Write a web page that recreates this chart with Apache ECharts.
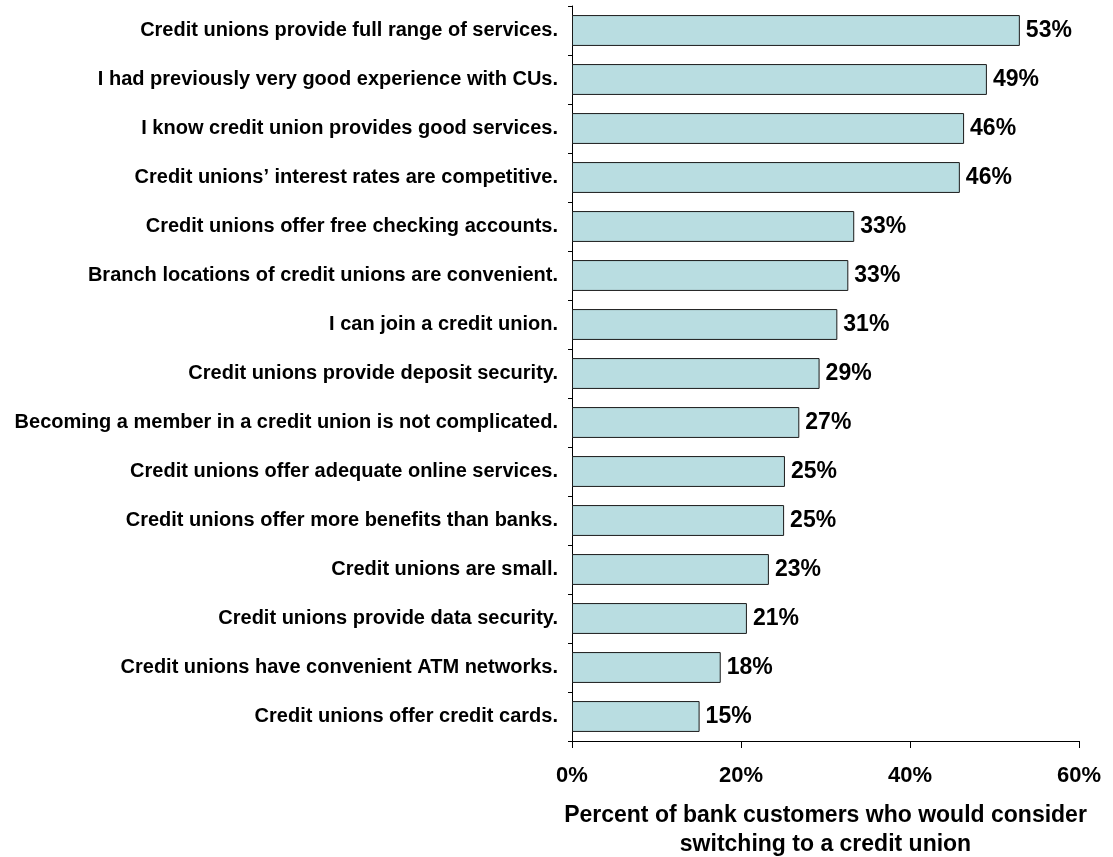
<!DOCTYPE html>
<html>
<head>
<meta charset="utf-8">
<script src="https://cdn.jsdelivr.net/npm/echarts@6/dist/echarts.min.js"></script>
<style>
  html, body { margin: 0; padding: 0; background: #ffffff; }
  #chart { width: 1113px; height: 857px; }
</style>
</head>
<body>
<div id="chart"></div>
<script>
// Reasons bank customers would consider switching to a credit union (top to bottom)
const reasons = [
  "Credit unions provide full range of services.",
  "I had previously very good experience with CUs.",
  "I know credit union provides good services.",
  "Credit unions\u2019 interest rates are competitive.",
  "Credit unions offer free checking accounts.",
  "Branch locations of credit unions are convenient.",
  "I can join a credit union.",
  "Credit unions provide deposit security.",
  "Becoming a member in a credit union is not complicated.",
  "Credit unions offer adequate online services.",
  "Credit unions offer more benefits than banks.",
  "Credit unions are small.",
  "Credit unions provide data security.",
  "Credit unions have convenient ATM networks.",
  "Credit unions offer credit cards."
];
// Share of respondents, percent
const shares = [53.0, 49.1, 46.4, 45.9, 33.4, 32.7, 31.4, 29.3, 26.9, 25.2, 25.1, 23.3, 20.7, 17.6, 15.1];
const xTicks = [0, 20, 40, 60];
const xTitle = "Percent of bank customers who would consider\nswitching to a credit union";

const font = '"Liberation Sans", Arial, sans-serif';
const chart = echarts.init(document.getElementById('chart'));

chart.setOption({
  animation: false,
  backgroundColor: '#ffffff',
  grid: {
    left: 572, right: 34, top: 6, bottom: 116,
    containLabel: false, outerBoundsMode: 'none'
  },
  xAxis: {
    type: 'value',
    min: xTicks[0],
    max: xTicks[xTicks.length - 1],
    interval: xTicks[1] - xTicks[0],
    axisLine: { show: true, lineStyle: { color: '#000000', width: 1 } },
    axisTick: { show: true, inside: false, length: 7, lineStyle: { color: '#000000' } },
    splitLine: { show: false },
    axisLabel: {
      formatter: v => v + '%',
      color: '#000000', fontFamily: font, fontWeight: 'bold', fontSize: 22, margin: 24
    },
    name: xTitle,
    nameLocation: 'middle',
    nameGap: 60,
    nameTextStyle: {
      color: '#000000', fontFamily: font, fontWeight: 'bold', fontSize: 23,
      lineHeight: 29, verticalAlign: 'top'
    }
  },
  yAxis: {
    type: 'category',
    data: reasons,
    inverse: true,
    axisLine: { show: true, lineStyle: { color: '#000000', width: 1 } },
    axisTick: { show: true, length: 4, lineStyle: { color: '#000000' } },
    axisLabel: {
      color: '#000000', fontFamily: font, fontWeight: 'bold', fontSize: 20, margin: 14
    }
  },
  series: [{
    type: 'bar',
    data: shares,
    barCategoryGap: '37%',
    itemStyle: { color: '#b9dde1', borderColor: '#1a1a1a', borderWidth: 1 },
    label: {
      show: true,
      position: 'right',
      distance: 6,
      formatter: p => Math.round(p.value) + '%',
      color: '#000000', fontFamily: font, fontWeight: 'bold', fontSize: 23
    }
  }]
});
</script>
</body>
</html>
